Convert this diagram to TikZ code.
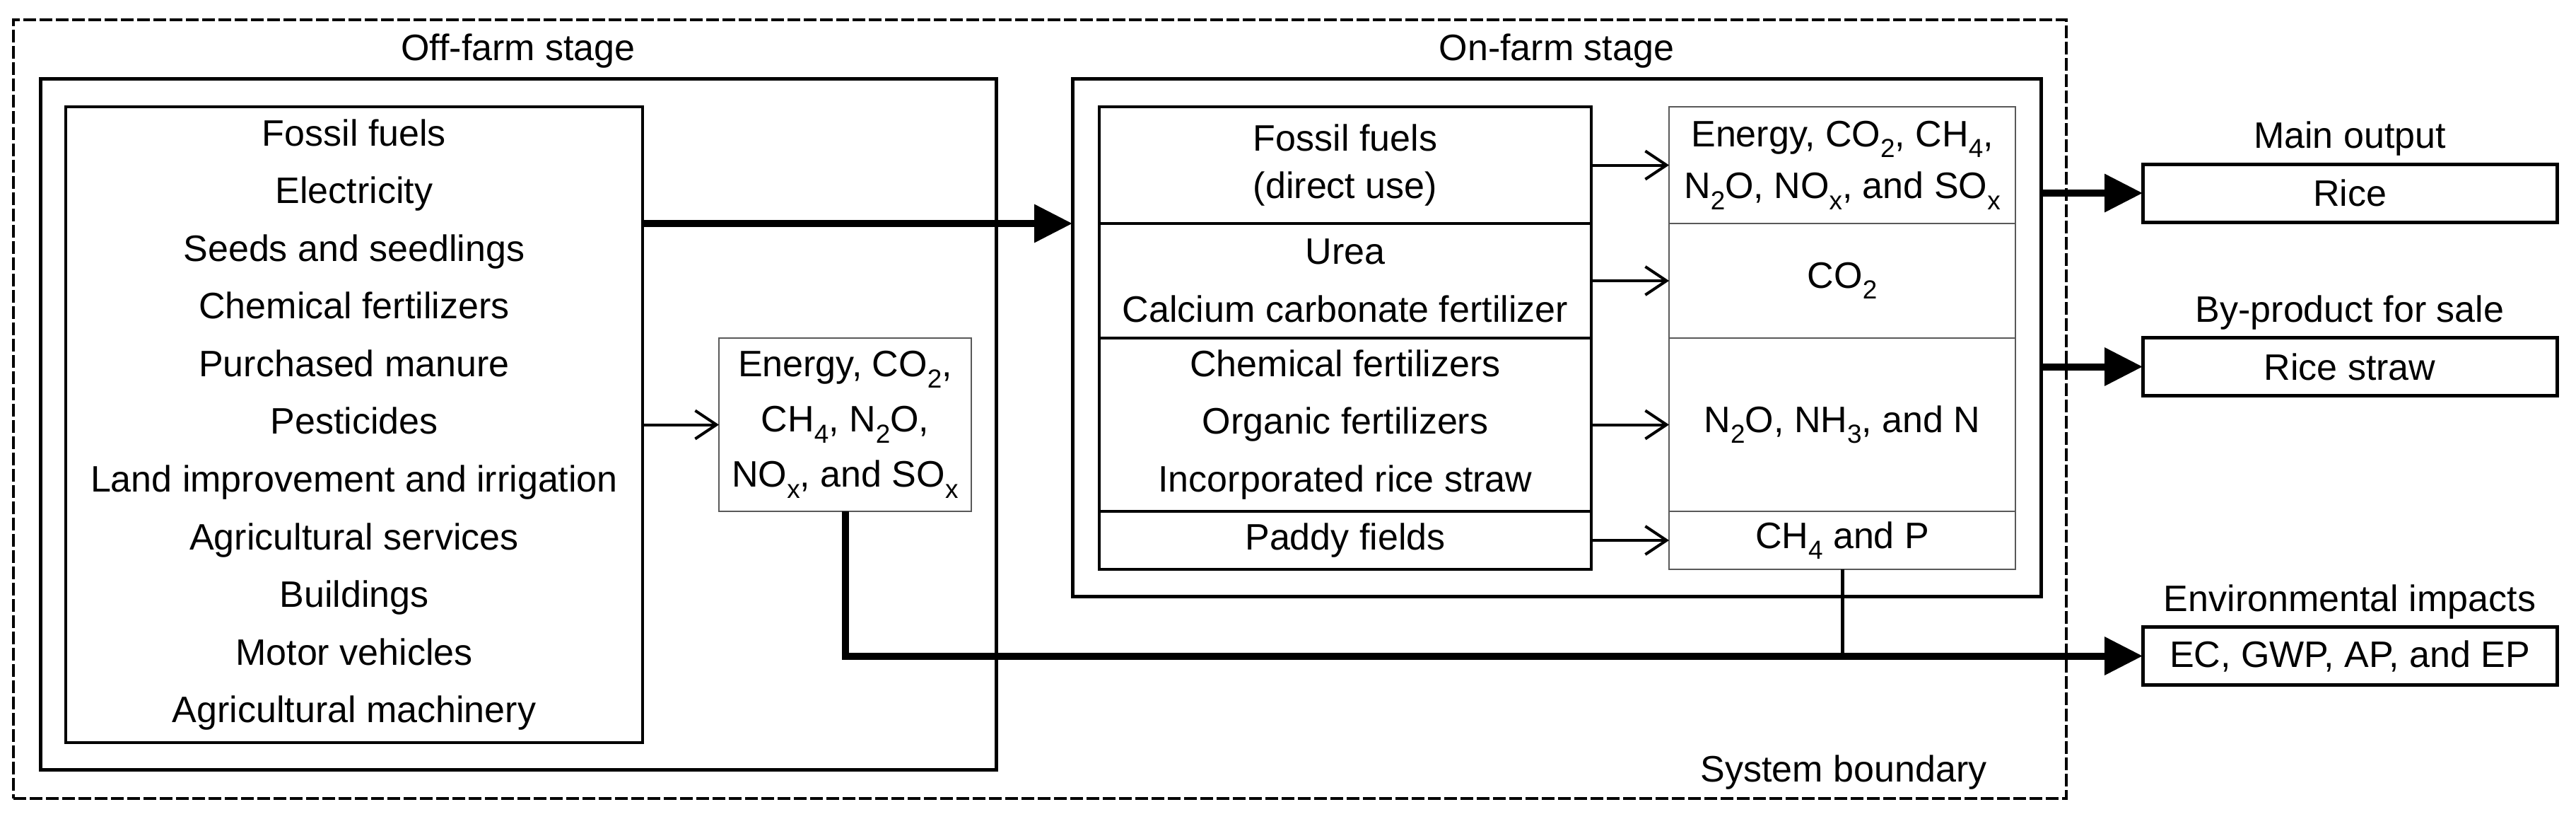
\documentclass[tikz,border=0pt]{standalone}
\usepackage{fontspec}
\setmainfont{Liberation Sans}
\usetikzlibrary{arrows.meta,positioning}

\newcommand{\chemsub}[1]{\raisebox{-0.3em}{\fontsize{10.5pt}{10.5pt}\selectfont #1}}

\begin{document}
\begin{tikzpicture}[
	font=\fontsize{14.8pt}{23.2pt}\selectfont,
	stagebox/.style={draw,line width=0.05cm,inner sep=0,outer sep=0},
	listbox/.style={draw,line width=0.045cm,inner sep=0,outer sep=0,align=center},
	embox/.style={draw=black!65,line width=0.6pt,inner sep=0,outer sep=0,align=center},
	outbox/.style={draw,line width=0.05cm,minimum width=5.86cm,minimum height=0.82cm,inner sep=0,outer sep=0},
	title/.style={inner sep=0},
	thinarrow/.style={-{Straight Barb[length=0.3cm,width=0.4cm]},line width=0.04cm},
	bigarrow/.style={-{Triangle[length=0.54cm,width=0.52cm]},line width=0.1cm}
	]
	\useasboundingbox (0,0) rectangle (36.44,-11.57);
	
	% System boundary
	\node[draw,dash pattern=on 0.18cm off 0.05cm,line width=0.045cm,minimum width=29.04cm,minimum height=11.01cm,inner sep=0] (boundary) at (14.71,-5.785) {};
	\node[title,anchor=base east] (sysb) at ([xshift=-1.14cm,yshift=0.26cm]boundary.south east) {System boundary};
	
	% Off-farm stage
	\node[stagebox,minimum width=13.52cm,minimum height=9.77cm] (offfarm) at (7.33,-5.995) {};
	\node[title,above=0.14cm of offfarm] (offtitle) {Off-farm stage};
	\node[listbox,minimum width=8.16cm,minimum height=8.99cm] (inputs) at (5.01,-6.005) {Fossil fuels\\Electricity\\Seeds and seedlings\\Chemical fertilizers\\Purchased manure\\Pesticides\\Land improvement and irrigation\\Agricultural services\\Buildings\\Motor vehicles\\Agricultural machinery};
	\node[embox,minimum width=3.57cm,minimum height=2.45cm,font=\fontsize{14.8pt}{22.2pt}\selectfont] (offem) at (11.955,-6.005) {Energy, CO\chemsub{2},\\CH\chemsub{4}, N\chemsub{2}O,\\NO\chemsub{x}, and SO\chemsub{x}};
	
	% On-farm stage
	\node[stagebox,minimum width=13.70cm,minimum height=7.32cm] (onfarm) at (22.02,-4.77) {};
	\node[title,above=0.14cm of onfarm] (ontitle) {On-farm stage};
	\node[listbox,minimum width=6.96cm,minimum height=1.65cm,font=\fontsize{14.8pt}{19pt}\selectfont] (fuel) at (19.03,-2.335) {Fossil fuels\\(direct use)};
	\node[listbox,below=0pt of fuel,minimum width=6.96cm,minimum height=1.62cm] (urea) {Urea\\Calcium carbonate fertilizer};
	\node[listbox,below=0pt of urea,minimum width=6.96cm,minimum height=2.45cm] (fert) {Chemical fertilizers\\Organic fertilizers\\Incorporated rice straw};
	\node[listbox,below=0pt of fert,minimum width=6.96cm,minimum height=0.82cm] (paddy) {Paddy fields};
	
	\node[embox,right=1.10cm of fuel,minimum width=4.90cm,minimum height=1.65cm,font=\fontsize{14.8pt}{20.8pt}\selectfont] (fuelem) {Energy, CO\chemsub{2}, CH\chemsub{4},\\N\chemsub{2}O, NO\chemsub{x}, and SO\chemsub{x}};
	\node[embox,right=1.10cm of urea,minimum width=4.90cm,minimum height=1.62cm] (ureaem) {CO\chemsub{2}};
	\node[embox,right=1.10cm of fert,minimum width=4.90cm,minimum height=2.45cm] (fertem) {N\chemsub{2}O, NH\chemsub{3}, and N};
	\node[embox,right=1.10cm of paddy,minimum width=4.90cm,minimum height=0.82cm] (paddyem) {CH\chemsub{4} and P};
	
	% Outputs
	\node[outbox] (rice) at (33.24,-2.73) {Rice};
	\node[title,above=0.11cm of rice] (ricetitle) {Main output};
	\node[outbox] (straw) at (33.24,-5.185) {Rice straw};
	\node[title,above=0.11cm of straw] (strawtitle) {By-product for sale};
	\node[outbox] (env) at (33.24,-9.275) {EC, GWP, AP, and EP};
	\node[title,above=0.11cm of env] (envtitle) {Environmental impacts};
	
	% Arrows
	\draw[thinarrow] (inputs.east |- offem.west) -- (offem.west);
	\draw[thinarrow] (fuel) -- (fuelem);
	\draw[thinarrow] (urea) -- (ureaem);
	\draw[thinarrow] (fert) -- (fertem);
	\draw[thinarrow] (paddy) -- (paddyem);
	\draw[bigarrow] (inputs.east |- fuel.south) -- (onfarm.west |- fuel.south);
	\draw[bigarrow] (onfarm.east |- rice.west) -- (rice.west);
	\draw[bigarrow] (onfarm.east |- straw.west) -- (straw.west);
	\draw[bigarrow] (offem.south) |- (env.west);
	\draw[line width=0.05cm] (paddyem.south) -- (paddyem.south |- env.west);
	
\end{tikzpicture}
\end{document}
